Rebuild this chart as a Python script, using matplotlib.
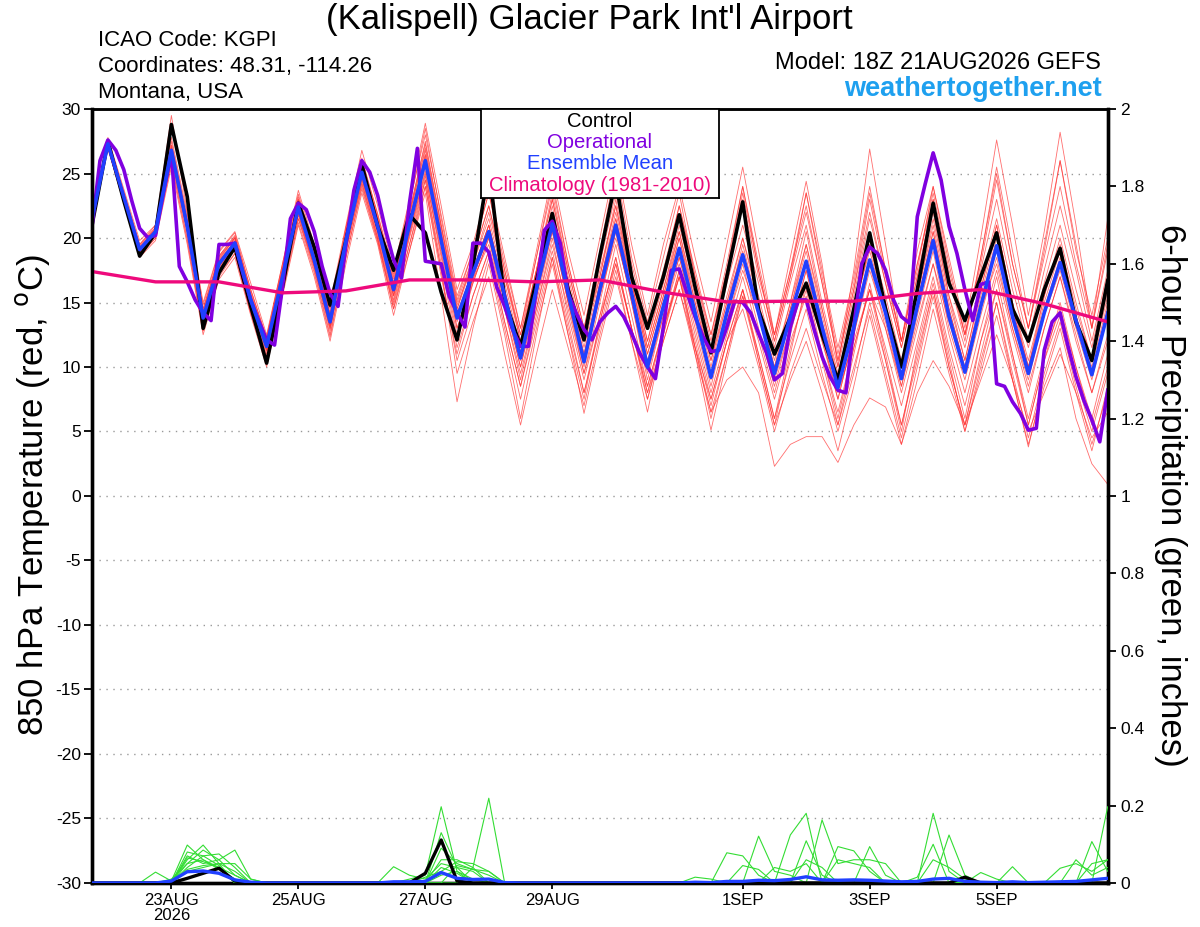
import matplotlib
matplotlib.use("Agg")
import matplotlib.pyplot as plt
import pandas as pd

plt.rcParams['font.family'] = ['Liberation Sans', 'DejaVu Sans']

# ---------------- data ----------------
INIT = "2026-08-21 18:00"
TIMES_6H = pd.date_range(INIT, periods=65, freq="6h")
TIMES_3H = pd.date_range(INIT, periods=129, freq="3h")
TIMES_CLIM = pd.date_range(INIT, periods=17, freq="24h")

XTICK_DATES = pd.to_datetime(["2026-08-23", "2026-08-25", "2026-08-27", "2026-08-29",
                              "2026-09-01", "2026-09-03", "2026-09-05"])
XTICK_LABELS = ["23AUG\n2026", "25AUG", "27AUG", "29AUG", "1SEP", "3SEP", "5SEP"]
TEMP_TICKS = [30, 25, 20, 15, 10, 5, 0, -5, -10, -15, -20, -25, -30]
PRECIP_TICKS = [0, 0.2, 0.4, 0.6, 0.8, 1.0, 1.2, 1.4, 1.6, 1.8, 2.0]
PRECIP_TICK_LABELS = ["0", "0.2", "0.4", "0.6", "0.8", "1", "1.2", "1.4", "1.6", "1.8", "2"]

CONTROL = [21.0, 27.5, 22.9, 18.6, 20.4, 28.8, 23.2, 13.0, 17.3, 19.3,
           14.7, 10.3, 16.2, 22.7, 19.3, 14.8, 19.8, 25.7, 20.9, 17.5,
           21.8, 20.4, 15.8, 12.1, 17.8, 25.5, 15.2, 11.6, 16.7, 21.9,
           16.0, 12.1, 18.6, 24.5, 17.0, 13.0, 17.0, 21.8, 16.2, 11.1,
           17.0, 22.8, 14.4, 11.0, 13.8, 16.5, 12.5, 9.0, 14.5, 20.4,
           14.5, 10.0, 16.0, 22.7, 16.5, 13.6, 17.0, 20.4, 14.5, 12.0,
           16.0, 19.2, 13.5, 10.5, 16.7]

ENS_MEAN = [21.5, 27.3, 23.2, 19.1, 20.5, 26.8, 20.9, 13.8, 18.0, 19.6,
            15.2, 11.6, 17.0, 22.4, 18.3, 13.5, 19.8, 25.1, 20.9, 16.0,
            21.0, 26.0, 19.8, 13.8, 17.3, 20.5, 15.5, 10.7, 16.0, 21.1,
            15.7, 10.4, 16.0, 21.0, 15.7, 10.0, 14.7, 19.2, 14.2, 9.2,
            14.2, 18.7, 14.2, 9.5, 13.9, 18.2, 13.1, 8.4, 13.1, 18.3,
            14.2, 9.1, 14.7, 19.8, 13.9, 9.6, 14.7, 19.4, 13.9, 9.5,
            14.2, 18.1, 13.6, 9.4, 14.2]

OPERATIONAL = [20.9, 26.0, 27.6, 26.8, 25.3, 22.9, 20.75, 20.05, 20.2, 23.5,
               26.6, 17.8, 16.6, 15.2, 14.2, 13.6, 19.5, 19.5, 19.6, 17.3,
               15.2, 13.6, 12.1, 11.7, 16.2, 21.5, 22.7, 22.2, 20.5, 17.8,
               15.7, 14.7, 19.5, 23.7, 26.0, 25.1, 23.3, 20.6, 18.3, 16.9,
               22.7, 26.95, 18.2, 18.1, 18.0, 15.5, 14.2, 13.1, 19.6, 19.6,
               18.9, 16.2, 14.7, 12.9, 11.6, 11.6, 16.0, 20.6, 21.3, 19.6,
               15.7, 14.2, 12.9, 12.1, 13.5, 14.2, 14.7, 13.9, 12.6, 11.1,
               10.0, 9.1, 13.1, 17.5, 17.6, 15.7, 13.9, 12.35, 11.2, 11.3,
               13.1, 15.1, 15.0, 14.2, 12.6, 11.1, 9.0, 9.5, 13.1, 15.2,
               15.2, 12.9, 10.8, 9.25, 8.2, 8.0, 13.1, 18.0, 19.3, 18.8,
               17.5, 15.2, 13.9, 13.4, 21.65, 24.2, 26.6, 24.5, 20.9, 18.8,
               16.0, 13.6, 16.4, 16.6, 8.7, 8.5, 7.3, 6.4, 5.1, 5.25,
               11.3, 13.5, 14.2, 11.6, 9.25, 7.4, 5.9, 4.2, 8.2]

CLIMATOLOGY = [17.4, 16.6, 16.6, 15.75, 15.9, 16.75, 16.75, 16.6, 16.75,
               15.8, 15.05, 15.1, 15.1, 15.7, 16.0, 14.9, 13.5]

M01 = [21.8, 27.6, 23.5, 19.5, 20.8, 27.5, 21.5, 14.5, 18.6, 20.2,
       16.0, 12.2, 17.8, 23.2, 19.0, 14.5, 20.8, 26.2, 21.8, 17.0,
       22.5, 28.5, 21.5, 15.2, 19.0, 23.5, 17.5, 12.5, 18.5, 24.5,
       18.0, 13.0, 19.0, 25.5, 18.5, 13.5, 18.5, 23.5, 17.0, 12.5,
       18.0, 24.0, 17.5, 12.0, 17.0, 22.0, 16.5, 10.5, 16.0, 23.0,
       17.0, 12.0, 18.0, 23.5, 17.5, 12.5, 18.5, 25.0, 18.0, 13.0,
       19.5, 26.0, 19.0, 14.0, 20.0]
M02 = [21.2, 27.0, 22.8, 18.6, 20.0, 26.0, 20.0, 12.8, 17.2, 18.8,
       14.2, 10.5, 16.0, 21.5, 17.5, 12.5, 18.5, 24.0, 19.8, 14.8,
       19.5, 24.5, 18.0, 11.5, 15.5, 19.0, 13.5, 8.5, 14.0, 19.0,
       13.5, 8.0, 13.5, 18.5, 13.0, 7.5, 12.0, 16.0, 11.5, 6.5,
       11.0, 15.5, 11.0, 6.0, 10.5, 14.5, 9.5, 5.0, 9.5, 15.0,
       10.5, 5.5, 10.5, 16.0, 10.0, 5.5, 10.5, 15.0, 9.5, 4.5,
       9.5, 13.5, 8.5, 4.0, 8.0]
M03 = [21.5, 27.2, 23.0, 19.0, 20.4, 26.5, 20.6, 13.5, 17.8, 19.4,
       15.0, 11.3, 16.8, 22.0, 18.0, 13.2, 19.5, 24.8, 20.5, 15.5,
       20.5, 25.0, 18.5, 12.0, 16.5, 20.0, 14.5, 9.0, 14.5, 20.0,
       14.0, 9.0, 14.0, 19.5, 14.0, 8.5, 13.0, 17.5, 12.5, 7.5,
       12.0, 16.0, 10.5, 5.5, 9.0, 12.0, 8.0, 3.5, 8.5, 14.0,
       9.0, 4.0, 9.0, 14.5, 9.5, 5.0, 9.5, 14.0, 9.0, 4.0,
       8.5, 11.5, 6.0, 2.5, 0.9]
M04 = [21.6, 27.4, 23.4, 19.3, 20.6, 27.0, 21.2, 14.2, 18.4, 20.0,
       15.6, 12.0, 17.5, 23.0, 19.0, 14.0, 20.5, 25.8, 21.5, 16.5,
       22.0, 27.5, 21.0, 14.5, 18.5, 22.5, 17.0, 12.0, 17.5, 23.0,
       17.0, 12.0, 17.5, 22.5, 17.0, 11.5, 16.0, 21.0, 16.0, 11.0,
       16.5, 21.0, 16.5, 11.5, 16.5, 21.0, 15.0, 10.0, 15.5, 21.5,
       16.5, 11.5, 17.0, 22.0, 15.5, 11.5, 16.5, 21.5, 16.0, 11.5,
       16.5, 21.0, 16.0, 11.5, 17.0]
M05 = [21.4, 27.1, 23.1, 19.0, 20.3, 26.6, 20.7, 13.6, 17.9, 19.5,
       15.1, 11.5, 16.9, 22.2, 18.2, 13.4, 19.6, 24.9, 20.6, 15.6,
       20.8, 25.8, 19.6, 13.5, 17.0, 20.2, 15.0, 10.0, 15.5, 21.0,
       15.0, 10.0, 15.5, 20.5, 15.0, 9.5, 14.0, 18.5, 13.5, 8.5,
       13.5, 18.0, 13.0, 8.5, 13.0, 17.5, 12.5, 7.5, 12.5, 17.5,
       13.5, 8.5, 14.0, 19.0, 13.0, 9.0, 14.0, 18.5, 13.0, 8.5,
       13.0, 17.0, 12.5, 8.0, 12.5]
M06 = [21.3, 27.0, 22.9, 18.8, 20.2, 26.3, 20.4, 13.2, 17.5, 19.2,
       14.8, 11.0, 16.5, 21.8, 17.8, 13.0, 19.2, 24.5, 20.2, 15.2,
       20.2, 24.8, 18.8, 12.5, 16.8, 19.5, 14.5, 9.5, 14.5, 19.5,
       14.5, 9.5, 14.0, 18.0, 13.0, 8.0, 12.0, 16.0, 11.0, 6.5,
       9.0, 10.0, 8.0, 2.3, 4.0, 4.6, 4.6, 2.6, 5.5, 7.6,
       6.9, 4.0, 8.0, 10.5, 8.5, 5.5, 9.0, 12.5, 9.0, 5.0,
       8.0, 11.0, 8.0, 4.5, 6.5]
M07 = [21.7, 27.8, 23.8, 19.8, 21.0, 29.5, 22.0, 15.0, 19.0, 20.5,
       16.5, 12.5, 18.0, 23.7, 19.5, 15.0, 21.0, 26.8, 22.5, 17.5,
       23.0, 28.9, 22.5, 16.0, 19.5, 24.0, 18.5, 13.0, 19.0, 25.0,
       19.0, 14.0, 20.0, 26.0, 19.5, 14.0, 19.5, 24.0, 18.5, 13.5,
       19.5, 25.5, 19.0, 12.5, 18.5, 24.4, 18.0, 10.0, 17.5, 26.9,
       19.5, 12.0, 19.0, 24.0, 18.5, 13.0, 20.0, 27.6, 21.0, 14.0,
       20.5, 28.2, 21.0, 13.0, 21.5]
M08 = [21.5, 27.3, 23.3, 19.2, 20.6, 26.9, 21.0, 14.0, 18.2, 19.8,
       15.4, 11.8, 17.3, 22.7, 18.6, 13.8, 20.0, 25.3, 21.2, 16.3,
       21.5, 26.5, 20.3, 14.2, 17.5, 21.0, 16.0, 11.0, 16.5, 22.0,
       16.5, 11.0, 16.5, 21.5, 16.0, 10.5, 15.0, 20.0, 14.5, 9.5,
       14.5, 19.5, 14.5, 10.0, 14.5, 19.0, 13.5, 9.0, 14.0, 19.5,
       14.5, 9.5, 15.0, 20.5, 14.5, 10.0, 15.5, 20.5, 14.5, 10.0,
       15.0, 19.0, 14.0, 10.0, 15.0]
M09 = [21.4, 27.2, 23.0, 18.9, 20.2, 26.2, 20.5, 13.4, 17.6, 19.0,
       14.5, 10.8, 16.2, 21.5, 17.8, 13.0, 19.0, 24.2, 20.0, 14.5,
       19.0, 23.5, 15.5, 7.3, 13.0, 18.0, 12.5, 6.0, 12.5, 18.5,
       12.5, 6.4, 12.0, 17.0, 12.0, 6.5, 12.5, 17.0, 11.0, 5.1,
       10.5, 15.5, 10.5, 5.5, 11.0, 16.5, 11.0, 6.0, 11.5, 16.0,
       10.5, 5.0, 11.5, 16.5, 11.0, 6.0, 12.0, 17.0, 11.0, 5.5,
       10.5, 15.0, 10.0, 5.5, 10.0]
M10 = [21.6, 27.5, 23.4, 19.2, 20.7, 27.2, 21.1, 14.0, 18.3, 20.0,
       15.5, 11.9, 17.5, 23.0, 18.8, 14.0, 20.2, 25.5, 21.4, 16.5,
       21.8, 27.0, 20.8, 14.8, 18.0, 22.0, 17.0, 12.5, 17.5, 23.5,
       17.5, 12.5, 17.0, 23.0, 17.0, 12.0, 16.5, 21.5, 16.5, 11.5,
       17.0, 23.5, 17.5, 12.0, 17.0, 23.5, 17.0, 11.0, 16.5, 23.5,
       17.5, 12.0, 17.5, 24.0, 18.0, 12.5, 18.0, 24.5, 18.0, 13.0,
       18.5, 24.0, 18.0, 13.0, 19.0]
M11 = [21.3, 27.1, 23.0, 19.0, 20.4, 26.6, 20.6, 13.6, 17.8, 19.3,
       15.0, 11.4, 16.8, 22.2, 18.1, 13.3, 19.5, 24.7, 20.5, 15.8,
       20.6, 25.5, 19.5, 13.0, 16.8, 20.5, 15.2, 10.5, 15.5, 20.5,
       15.0, 10.5, 15.5, 20.0, 15.5, 10.0, 14.5, 18.5, 14.0, 9.0,
       13.5, 17.5, 14.0, 9.0, 13.0, 16.5, 12.0, 8.0, 12.0, 16.0,
       13.0, 8.5, 13.5, 18.0, 13.5, 9.5, 14.5, 18.0, 13.0, 9.0,
       14.0, 17.5, 13.0, 9.0, 14.0]
M12 = [21.5, 27.4, 23.2, 19.1, 20.5, 26.8, 20.9, 13.9, 18.1, 19.7,
       15.3, 11.7, 17.1, 22.5, 18.4, 13.6, 19.9, 25.2, 21.0, 16.1,
       21.2, 26.2, 20.0, 14.0, 17.5, 21.0, 15.8, 11.2, 16.5, 21.5,
       16.0, 11.0, 16.5, 22.0, 16.5, 11.0, 15.5, 20.5, 15.5, 10.5,
       15.5, 20.0, 15.5, 10.5, 15.0, 20.5, 14.5, 9.0, 14.5, 20.0,
       15.5, 10.5, 15.5, 21.0, 15.0, 10.5, 16.0, 21.0, 15.0, 10.5,
       15.5, 19.5, 14.5, 10.5, 15.5]
M13 = [21.3, 27.0, 22.7, 18.5, 19.8, 25.5, 19.5, 12.5, 16.8, 18.5,
       14.0, 10.0, 15.5, 21.0, 17.0, 12.0, 18.0, 23.5, 19.5, 14.0,
       19.0, 24.0, 17.5, 10.5, 14.5, 18.5, 13.0, 7.5, 13.0, 18.0,
       12.5, 7.5, 13.5, 18.5, 13.0, 8.0, 13.0, 17.0, 12.0, 7.0,
       12.0, 16.0, 12.0, 7.5, 12.0, 15.5, 11.0, 6.5, 11.5, 16.0,
       11.5, 7.0, 12.0, 17.0, 11.5, 7.0, 12.0, 16.0, 11.0, 6.0,
       11.0, 14.5, 10.0, 6.0, 11.0]
M14 = [21.5, 27.3, 23.3, 19.3, 20.7, 27.0, 21.2, 14.3, 18.5, 20.0,
       15.6, 12.0, 17.5, 22.8, 18.7, 14.0, 20.2, 25.5, 21.3, 16.5,
       21.8, 26.8, 20.5, 14.5, 18.0, 21.5, 16.5, 11.5, 17.0, 22.5,
       16.5, 11.5, 17.0, 22.5, 16.5, 11.5, 16.0, 20.5, 15.0, 10.0,
       15.0, 20.0, 15.0, 10.0, 15.0, 19.5, 14.5, 9.5, 14.5, 19.0,
       14.5, 10.0, 15.5, 21.5, 15.5, 10.5, 16.0, 21.0, 15.0, 10.0,
       15.5, 20.0, 15.0, 10.5, 16.0]
M15 = [21.4, 27.2, 23.1, 19.0, 20.3, 26.5, 20.5, 13.3, 17.6, 19.2,
       14.8, 11.2, 16.5, 21.8, 17.7, 12.8, 19.0, 24.3, 20.0, 15.0,
       20.0, 24.5, 17.5, 9.5, 13.5, 17.0, 11.0, 5.5, 11.0, 16.0,
       11.5, 7.0, 12.5, 17.5, 12.0, 7.5, 12.5, 17.5, 11.5, 6.0,
       11.0, 16.0, 11.0, 6.0, 11.5, 16.0, 10.5, 5.5, 11.0, 16.5,
       11.0, 5.5, 11.0, 16.0, 10.5, 5.0, 10.0, 15.0, 9.0, 3.8,
       9.0, 13.0, 8.0, 3.5, 8.5]
M16 = [21.7, 27.6, 23.6, 19.5, 21.0, 27.8, 21.8, 14.8, 18.9, 20.4,
       16.0, 12.3, 18.0, 23.4, 19.2, 14.6, 20.8, 26.0, 21.9, 17.2,
       22.8, 28.0, 21.8, 15.5, 19.0, 23.5, 18.0, 13.0, 18.5, 24.0,
       18.0, 13.0, 18.5, 24.5, 18.0, 13.0, 17.5, 22.5, 17.5, 12.5,
       17.5, 23.0, 17.0, 12.5, 17.5, 22.5, 16.5, 10.5, 16.0, 22.0,
       16.5, 11.5, 17.0, 23.0, 17.0, 12.5, 17.5, 23.0, 17.0, 12.0,
       17.5, 22.5, 17.5, 12.0, 17.5]
M17 = [21.4, 27.1, 23.0, 18.9, 20.3, 26.4, 20.5, 13.4, 17.7, 19.3,
       14.9, 11.3, 16.7, 22.0, 18.0, 13.2, 19.4, 24.6, 20.4, 15.5,
       20.3, 25.2, 19.0, 13.0, 16.5, 20.0, 15.0, 10.0, 15.0, 20.5,
       15.0, 9.5, 15.0, 20.5, 15.0, 9.0, 14.0, 18.0, 13.0, 8.0,
       12.5, 17.0, 12.5, 8.0, 12.5, 17.5, 12.0, 7.5, 12.5, 18.0,
       13.0, 8.0, 13.0, 18.0, 12.5, 8.0, 13.0, 17.5, 12.5, 8.0,
       13.0, 17.0, 12.0, 8.0, 12.0]
M18 = [21.6, 27.4, 23.3, 19.2, 20.5, 26.9, 21.0, 14.0, 18.2, 19.8,
       15.4, 11.8, 17.3, 22.6, 18.5, 13.7, 20.0, 25.3, 21.2, 16.2,
       21.4, 26.4, 20.2, 14.0, 17.5, 21.0, 16.0, 11.0, 16.0, 21.0,
       15.5, 10.5, 16.5, 21.5, 16.5, 11.0, 15.5, 20.0, 15.0, 10.5,
       15.0, 19.0, 14.0, 9.5, 14.5, 19.5, 14.0, 9.0, 14.0, 19.5,
       15.0, 10.0, 15.0, 20.5, 14.5, 10.0, 15.0, 20.0, 14.5, 10.0,
       14.5, 18.5, 14.0, 9.5, 14.5]
M19 = [21.3, 26.9, 22.8, 18.7, 20.0, 25.8, 19.8, 12.8, 17.0, 18.8,
       14.2, 10.3, 15.8, 21.2, 17.3, 12.3, 18.5, 23.8, 19.7, 14.5,
       19.5, 24.0, 17.0, 11.0, 15.5, 19.0, 13.5, 8.5, 13.5, 18.5,
       13.0, 8.0, 13.0, 18.0, 13.0, 8.5, 13.0, 17.0, 11.5, 7.5,
       12.0, 14.5, 10.0, 5.0, 9.5, 13.0, 9.0, 5.5, 10.0, 14.5,
       9.5, 4.5, 10.0, 15.5, 10.0, 5.5, 11.0, 16.0, 10.5, 5.5,
       10.5, 14.0, 9.0, 5.0, 9.5]
M20 = [21.5, 27.4, 23.4, 19.4, 20.8, 27.2, 21.3, 14.5, 18.6, 20.1,
       15.8, 12.1, 17.6, 22.9, 18.8, 14.2, 20.4, 25.7, 21.6, 16.8,
       22.0, 27.3, 21.0, 15.0, 18.5, 22.5, 17.5, 12.0, 17.5, 23.0,
       17.5, 12.5, 18.0, 23.5, 17.5, 12.0, 17.0, 22.5, 17.0, 12.0,
       17.5, 24.0, 18.0, 12.5, 17.5, 23.5, 17.5, 11.5, 17.0, 24.0,
       17.5, 12.0, 18.0, 23.0, 17.0, 12.0, 18.5, 25.5, 19.0, 13.0,
       19.0, 26.0, 19.5, 13.0, 19.5]
MEMBERS = [M01, M02, M03, M04, M05, M06, M07, M08, M09, M10,
           M11, M12, M13, M14, M15, M16, M17, M18, M19, M20]

# 6-hour precipitation (inches)
P01 = [0, 0, 0, 0, .028, .005, .098, .06, .04, .02,
       0, 0, 0, 0, 0, 0, 0, 0, 0, 0,
       .01, .02, .197, .03, .01, 0, 0, 0, 0, 0,
       0, 0, 0, 0, 0, 0, 0, 0, 0, 0,
       .078, .07, .02, 0, 0, 0, 0, 0, 0, 0,
       0, 0, 0, .18, .03, 0, 0, 0, 0, 0,
       0, 0, 0, 0, 0]
P02 = [0, 0, 0, 0, 0, 0, .06, .098, .05, .03,
       0, 0, 0, 0, 0, 0, 0, 0, 0, 0,
       0, 0, 0, 0, .04, .219, 0, 0, 0, 0,
       0, 0, 0, 0, 0, 0, 0, 0, 0, 0,
       0, 0, .121, .03, .02, 0, 0, 0, 0, 0,
       0, 0, 0, 0, 0, 0, 0, 0, 0, 0,
       0, 0, 0, .107, .03]
P03 = [0, 0, 0, 0, 0, 0, .07, .05, .06, .085,
       .01, 0, 0, 0, 0, 0, 0, 0, 0, .042,
       .02, .01, .05, .04, .03, 0, 0, 0, 0, 0,
       0, 0, 0, 0, 0, 0, 0, 0, 0, 0,
       0, 0, 0, 0, .124, .18, 0, .094, .083, .03,
       0, 0, 0, 0, 0, 0, 0, 0, 0, 0,
       0, 0, 0, 0, .197]
P04 = [0, 0, 0, 0, 0, 0, .08, .07, .045, 0,
       0, 0, 0, 0, 0, 0, 0, 0, 0, 0,
       0, 0, .09, .05, .035, .02, 0, 0, 0, 0,
       0, 0, 0, 0, 0, 0, 0, 0, 0, 0,
       0, 0, 0, 0, 0, .109, .02, 0, 0, .094,
       .02, 0, 0, 0, .124, .02, 0, 0, 0, 0,
       0, 0, 0, 0, 0]
P05 = [0, 0, 0, 0, 0, .01, .05, .085, .06, .02,
       0, 0, 0, 0, 0, 0, 0, 0, 0, 0,
       0, 0, .06, .06, .04, 0, 0, 0, 0, 0,
       0, 0, 0, 0, 0, 0, 0, 0, 0, 0,
       0, 0, 0, 0, 0, 0, .163, .05, .06, .06,
       .05, 0, 0, 0, 0, 0, 0, 0, .042, 0,
       0, 0, 0, 0, 0]
P06 = [0, 0, 0, 0, 0, 0, .04, .07, .075, .04,
       0, 0, 0, 0, 0, 0, 0, 0, 0, 0,
       0, .015, .03, .055, .05, .03, 0, 0, 0, 0,
       0, 0, 0, 0, 0, 0, 0, 0, 0, 0,
       0, 0, 0, .04, .03, .05, 0, 0, 0, 0,
       0, 0, 0, 0, 0, 0, 0, 0, 0, 0,
       0, .038, .05, .03, .06]
P07 = [0, 0, 0, 0, 0, 0, .03, .04, .05, .05,
       .01, 0, 0, 0, 0, 0, 0, 0, 0, 0,
       0, 0, .04, .025, 0, 0, 0, 0, 0, 0,
       0, 0, 0, 0, 0, 0, 0, 0, .015, .01,
       0, 0, 0, 0, 0, 0, 0, .06, .05, .04,
       0, 0, 0, 0, 0, 0, .027, .01, 0, 0,
       0, 0, .06, .02, .04]
P08 = [0, 0, 0, 0, 0, 0, .065, .055, .04, 0,
       0, 0, 0, 0, 0, 0, 0, 0, 0, 0,
       0, 0, .13, .04, 0, 0, 0, 0, 0, 0,
       0, 0, 0, 0, 0, 0, 0, 0, 0, 0,
       0, 0, 0, 0, 0, 0, 0, 0, 0, 0,
       0, 0, 0, .06, .04, .01, 0, 0, 0, 0,
       0, 0, 0, .05, .06]
P09 = [0, 0, 0, 0, 0, 0, .05, .06, .035, .01,
       0, 0, 0, 0, 0, 0, 0, 0, 0, 0,
       0, 0, 0, .045, .035, .03, 0, 0, 0, 0,
       0, 0, 0, 0, 0, 0, 0, 0, 0, 0,
       0, 0, 0, 0, 0, .06, .04, 0, 0, 0,
       0, 0, 0, 0, 0, 0, 0, 0, 0, 0,
       0, 0, 0, 0, 0]
P10 = [0, 0, 0, 0, 0, 0, .035, .045, .05, 0,
       0, 0, 0, 0, 0, 0, 0, 0, 0, 0,
       0, 0, .02, .03, 0, 0, 0, 0, 0, 0,
       0, 0, 0, 0, 0, 0, 0, 0, 0, 0,
       0, .045, .035, 0, 0, 0, 0, 0, 0, 0,
       0, 0, .015, .1, 0, 0, 0, 0, 0, 0,
       0, 0, 0, 0, 0]
PRECIP_MEMBERS = [P01, P02, P03, P04, P05, P06, P07, P08, P09, P10]

PRECIP_CONTROL = [0, 0, 0, 0, 0, 0, .012, .025, .038, .005,
                  0, 0, 0, 0, 0, 0, 0, 0, 0, 0,
                  0, .025, .111, .005, 0, 0, 0, 0, 0, 0,
                  0, 0, 0, 0, 0, 0, 0, 0, 0, 0,
                  0, 0, 0, 0, 0, 0, 0, 0, 0, 0,
                  0, 0, 0, 0, 0, .015, 0, 0, 0, 0,
                  0, 0, 0, 0, 0]
PRECIP_MEAN = [0, 0, 0, 0, 0, .005, .029, .031, .025, .008,
               .002, 0, 0, 0, 0, 0, 0, 0, 0, .003,
               .003, .004, .027, .012, .009, .01, .001, 0, 0, 0,
               0, 0, 0, 0, 0, 0, 0, 0, .002, .001,
               .004, .004, .007, .006, .009, .016, .008, .007, .008, .007,
               .005, .003, .004, .01, .012, .004, .002, .001, .003, .001,
               .002, .003, .004, .008, .012]

# ---------------- style ----------------
C_RED = "#ff3030"
C_GREEN = "#33dd33"
C_PURPLE = "#8000e0"
C_BLUE = "#2040ff"
C_MAGENTA = "#ee0a7c"
C_WEB = "#1ea0ef"

fig = plt.figure(figsize=(12, 9.27), dpi=100)
ax = fig.add_axes([0.0767, 0.0475, 0.8464, 0.8349])

for m in MEMBERS:
    ax.plot(TIMES_6H[:len(m)], m, color=C_RED, lw=0.6, alpha=0.7, zorder=2)
ax.plot(TIMES_6H[:len(CONTROL)], CONTROL, color="black", lw=2.6, zorder=4)
ax.plot(TIMES_3H[:len(OPERATIONAL)], OPERATIONAL, color=C_PURPLE, lw=2.6, zorder=5)
ax.plot(TIMES_6H[:len(ENS_MEAN)], ENS_MEAN, color=C_BLUE, lw=2.6, zorder=6)
ax.plot(TIMES_CLIM[:len(CLIMATOLOGY)], CLIMATOLOGY, color=C_MAGENTA, lw=2.4, zorder=7)

ax.set_xlim(TIMES_6H[0], TIMES_6H[-1])
ax.set_ylim(-30, 30)
ax.set_yticks(TEMP_TICKS)
ax.set_yticklabels([str(t) for t in TEMP_TICKS])
ax.set_xticks(XTICK_DATES)
ax.set_xticklabels(XTICK_LABELS, linespacing=1.05)
ax.yaxis.grid(True, linestyle=(0, (1, 4)), color="#999999", lw=1.0)
ax.tick_params(axis="y", direction="out", length=6, width=1.3, labelsize=12.5, pad=2)
ax.tick_params(axis="x", direction="out", length=4, width=1.3, labelsize=12, pad=3)
for s in ["left", "bottom"]:
    ax.spines[s].set_linewidth(2.4)
ax.spines["top"].set_linewidth(1.8)
ax.spines["right"].set_linewidth(2.4)

ax2 = ax.twinx()
for p in PRECIP_MEMBERS:
    ax2.plot(TIMES_6H[:len(p)], p, color=C_GREEN, lw=0.8, zorder=3)
ax2.plot(TIMES_6H[:len(PRECIP_CONTROL)], PRECIP_CONTROL, color="black", lw=2.4, zorder=4)
ax2.plot(TIMES_6H[:len(PRECIP_MEAN)], PRECIP_MEAN, color=C_BLUE, lw=2.4, zorder=5)
ax2.set_ylim(0, 2)
ax2.set_yticks(PRECIP_TICKS)
ax2.set_yticklabels(PRECIP_TICK_LABELS)
ax2.tick_params(axis="y", direction="out", length=6, width=1.3, labelsize=12.5, pad=3)
ax2.spines["right"].set_linewidth(2.4)
ax2.spines["left"].set_linewidth(2.4)
ax2.spines["bottom"].set_linewidth(2.4)
ax2.spines["top"].set_linewidth(1.8)
ax2.set_xlim(TIMES_6H[0], TIMES_6H[-1])

# legend box
lax = fig.add_axes([0.4008, 0.7864, 0.1983, 0.0960])
lax.set_xticks([])
lax.set_yticks([])
lax.set_facecolor("white")
for s in lax.spines.values():
    s.set_linewidth(1.3)
LEGEND_ITEMS = [("Control", "black"), ("Operational", C_PURPLE),
                ("Ensemble Mean", C_BLUE), ("Climatology (1981-2010)", C_MAGENTA)]
for (label, col), yy in zip(LEGEND_ITEMS, [0.865, 0.629, 0.393, 0.146]):
    lax.text(0.5, yy, label, color=col, ha="center", va="center", fontsize=14.6,
             transform=lax.transAxes)

# titles and labels
fig.text(0.491, 0.979, "(Kalispell) Glacier Park Int'l Airport", ha="center", va="center",
         fontsize=25)
fig.text(0.0817, 0.9568, "ICAO Code: KGPI", ha="left", va="center", fontsize=16)
fig.text(0.0817, 0.9288, "Coordinates: 48.31, -114.26", ha="left", va="center", fontsize=16)
fig.text(0.0817, 0.8997, "Montana, USA", ha="left", va="center", fontsize=16)
fig.text(0.9175, 0.932, "Model: 18Z 21AUG2026 GEFS", ha="right", va="center", fontsize=17)
fig.text(0.9183, 0.904, "weathertogether.net", ha="right", va="center", fontsize=19.5,
         fontweight="bold", color=C_WEB)
fig.text(0.027, 0.466, "850 hPa Temperature (red, $^{\\mathrm{o}}$C)", rotation=90,
         ha="center", va="center", fontsize=25)
fig.text(0.975, 0.466, "6-hour Precipitation (green, inches)", rotation=-90,
         ha="center", va="center", fontsize=25)

fig.savefig("out.png", dpi=100)
